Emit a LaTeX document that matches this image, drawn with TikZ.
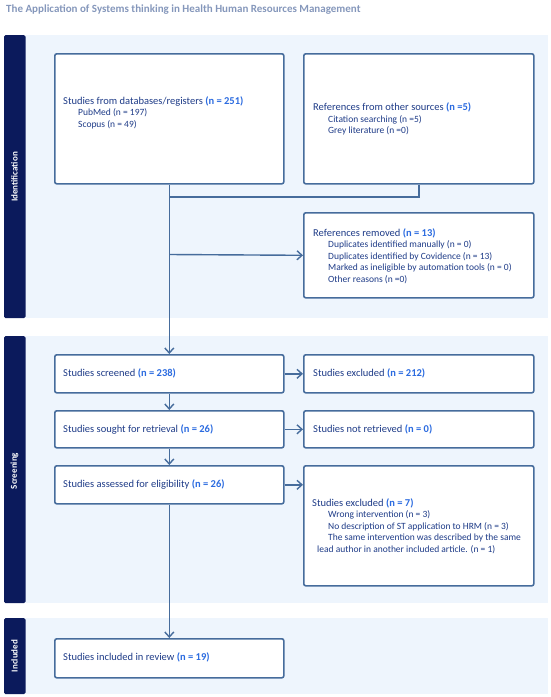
\documentclass[tikz,border=0pt]{standalone}
\usepackage{fontspec}
\setmainfont{Carlito}
\usetikzlibrary{arrows.meta}
\definecolor{bandfill}{HTML}{EEF5FD}
\definecolor{tabfill}{HTML}{0B1A5C}
\definecolor{boxline}{HTML}{466C9C}
\definecolor{txt}{HTML}{1F3C88}
\definecolor{num}{HTML}{2B6BE0}
\definecolor{ttl}{HTML}{8597BB}
\newcommand{\nm}[1]{\textbf{\textcolor{num}{#1}}}
\newcommand{\subf}{\fontsize{9.5}{11.6}\selectfont}
\begin{document}
\begin{tikzpicture}[x=1pt,y=-1pt,
  band/.style={fill=bandfill, draw=none},
  tab/.style={fill=tabfill, draw=none, rounded corners=1.5pt},
  tablabel/.style={rotate=90, text=white, font=\bfseries\fontsize{9}{10}\selectfont, inner sep=0pt},
  box/.style={draw=boxline, line width=1.6pt, fill=white, rounded corners=2pt, anchor=north west, inner sep=0pt},
  tx/.style={text=txt, font=\fontsize{10.5}{11.6}\selectfont, align=left, anchor=west, inner sep=0pt},
  conn/.style={draw=boxline, line width=1.4pt},
  arr/.style={conn, -{Straight Barb[length=5pt,width=9pt,line width=1.4pt]}}
]
\useasboundingbox (0,0) rectangle (550,697);
% title
\node[anchor=west, inner sep=0pt, text=ttl, font=\bfseries\fontsize{11}{13}\selectfont] (title) at (6,9.5) {The Application of Systems thinking in Health Human Resources Management};
% bands
\fill[band] (25,35) rectangle (548,318);
\fill[band] (25,336) rectangle (548,603);
\fill[band] (25,618) rectangle (548,694);
\fill[tab] (4,35) rectangle (25.5,318);
\fill[tab] (4,336) rectangle (25.5,603);
\fill[tab] (4,618) rectangle (25.5,694);
\node[tablabel] (lid) at (14.5,177) {Identification};
\node[tablabel] (lsc) at (14.5,471) {Screening};
\node[tablabel] (lin) at (14.5,656) {Included};
% boxes
\node[box, minimum width=229pt, minimum height=130pt] (db) at (54,53) {};
\node[box, minimum width=230pt, minimum height=130pt] (oth) at (303,53) {};
\node[box, minimum width=230pt, minimum height=85pt] (rem) at (303,212) {};
\node[box, minimum width=229pt, minimum height=38pt] (scr) at (54,354) {};
\node[box, minimum width=230pt, minimum height=38pt] (exc) at (303,354) {};
\node[box, minimum width=229pt, minimum height=37pt] (sou) at (54,410) {};
\node[box, minimum width=230pt, minimum height=37pt] (nre) at (303,410) {};
\node[box, minimum width=229pt, minimum height=38pt] (ass) at (54,465) {};
\node[box, minimum width=230pt, minimum height=120pt] (ex7) at (303,465) {};
\node[box, minimum width=229pt, minimum height=39pt] (inc) at (54,638) {};
% texts
\node[tx] (tdb) at (63,112.5) {Studies from databases/registers \nm{(n = 251)}\\
  {\subf\hspace*{15pt}PubMed (n = 197)}\\
  {\subf\hspace*{15pt}Scopus (n = 49)}};
\node[tx] (toth) at (313,119) {References from other sources \nm{(n =5)}\\
  {\subf\hspace*{15pt}Citation searching (n =5)}\\
  {\subf\hspace*{15pt}Grey literature (n =0)}};
\node[tx] (trem) at (313,256) {References removed \nm{(n = 13)}\\
  {\subf\hspace*{15pt}Duplicates identified manually (n = 0)}\\
  {\subf\hspace*{15pt}Duplicates identified by Covidence (n = 13)}\\
  {\subf\hspace*{15pt}Marked as ineligible by automation tools (n = 0)}\\
  {\subf\hspace*{15pt}Other reasons (n =0)}};
\node[tx] (tscr) at (63,373.5) {Studies screened \nm{(n = 238)}};
\node[tx] (texc) at (313,373.5) {Studies excluded \nm{(n = 212)}};
\node[tx] (tsou) at (63,429) {Studies sought for retrieval \nm{(n = 26)}};
\node[tx] (tnre) at (313,429) {Studies not retrieved \nm{(n = 0)}};
\node[tx] (tass) at (63,484.5) {Studies assessed for eligibility \nm{(n = 26)}};
\node[tx] (tex7) at (312,526) {Studies excluded \nm{(n = 7)}\\
  {\subf\hspace*{16pt}Wrong intervention (n = 3)}\\
  {\subf\hspace*{16pt}No description of ST application to HRM (n = 3)}\\
  {\subf\hspace*{16pt}The same intervention was described by the same}\\
  {\subf\hspace*{5pt}lead author in another included article. (n = 1)}};
\node[tx] (tinc) at (63,657.5) {Studies included in review \nm{(n = 19)}};
% connectors
\coordinate (j1) at (db.south |- 0,197);
\coordinate (j2) at (db.south |- 0,254.5);
\draw[conn] (oth.south) |- (j1);
\draw[arr] (db.south) -- (scr.north);
\draw[arr] (j2) -- (rem.west);
\draw[arr] (scr.east) -- (exc.west);
\draw[arr] (scr.south) -- (sou.north);
\draw[arr] (sou.east) -- (nre.west);
\draw[arr] (sou.south) -- (ass.north);
\draw[arr] (ass.east) -- (ex7.west |- ass.east);
\draw[arr] (ass.south) -- (inc.north);
\end{tikzpicture}
\end{document}
